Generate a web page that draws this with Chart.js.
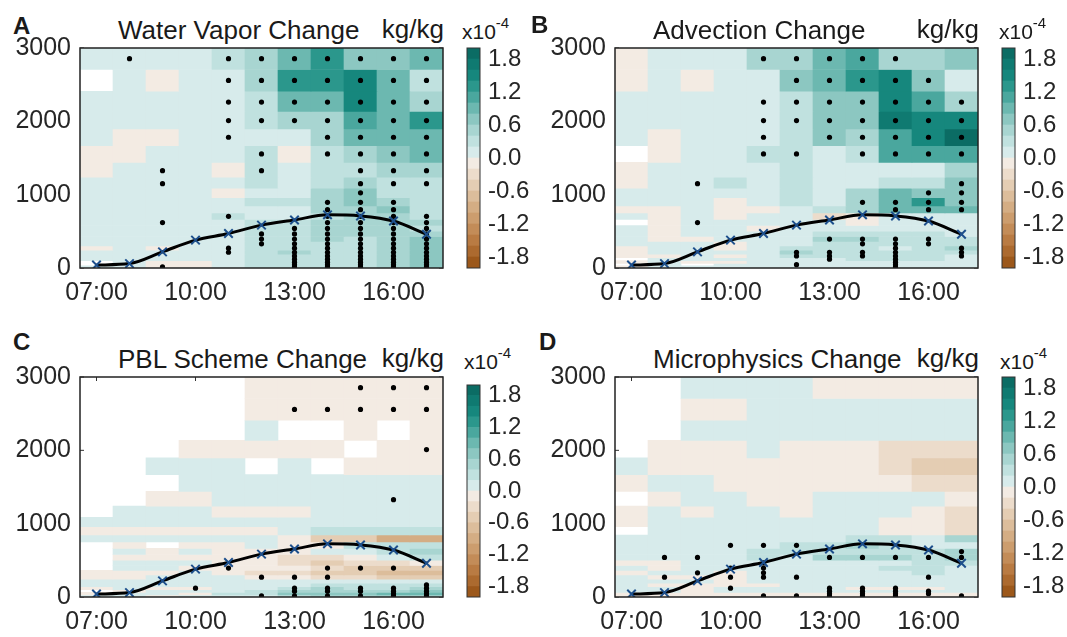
<!DOCTYPE html>
<html>
<head>
<meta charset="utf-8">
<title>Water vapor budget changes</title>
<script src="https://cdn.jsdelivr.net/npm/chart.js@4.4.1/dist/chart.umd.min.js"></script>
<style>
  html, body { margin: 0; padding: 0; background: #fff; overflow: hidden; }
  #page { position: relative; width: 1067px; height: 637px; font-family: "Liberation Sans", Arial, sans-serif; color: #1a1a1a; }
  #page canvas, #page .txt { position: absolute; }
  .txt { line-height: 1; white-space: nowrap; }
  .letter { font-weight: bold; font-size: 24px; }
  .title { font-size: 26px; }
  .scale { font-size: 21px; }
  .scale span { font-size: 15px; position: relative; top: -11px; }
</style>
</head>
<body>
<div id="page"></div>
<script>
// hours on the x axis, model levels (m) from top to bottom
const hours = ["07:00", "08:00", "09:00", "10:00", "11:00", "12:00", "13:00", "14:00", "15:00", "16:00", "17:00"];
const levels = [2855, 2558, 2262, 2011, 1783, 1555, 1327, 1150, 1025, 895, 795, 705, 620, 540, 465, 395, 330, 270, 215, 165, 120, 80, 45, 15];
const heightTicks = [0, 1000, 2000, 3000];
const colorTicks = [-1.8, -1.2, -0.6, 0.0, 0.6, 1.2, 1.8];
const colorLevels = [-2.0, -1.8, -1.6, -1.4, -1.2, -1.0, -0.8, -0.6, -0.4, -0.2, 0.0, 0.2, 0.4, 0.6, 0.8, 1.0, 1.2, 1.4, 1.6, 1.8, 2.0];

// boundary layer height (m)
const pblHeight = [40, 60, 220, 380, 470, 585, 655, 725, 710, 640, 460];

// changes in x10^-4 kg/kg, one row per level (top first), one column per hour; null = no change
const vaporChange = [
  [0.1, 0.1, 0.1, 0.1, 0.3, 0.5, 0.9, 1.3, 0.7, 0.7, 0.9],
  [null, 0.1, -0.1, 0.1, 0.1, 0.5, 1.3, 1.3, 1.5, 0.9, 0.3],
  [0.1, 0.1, 0.1, 0.1, 0.1, 0.3, 0.9, 0.9, 1.5, 0.9, 0.5],
  [0.1, 0.1, 0.1, 0.1, 0.1, 0.3, 0.5, 0.5, 1.1, 0.9, 1.3],
  [0.1, -0.1, -0.1, 0.1, 0.1, 0.1, 0.1, 0.5, 0.9, 0.9, 0.9],
  [-0.1, -0.1, 0.1, 0.1, 0.1, 0.3, -0.1, 0.3, 0.5, 0.7, 0.9],
  [-0.1, 0.1, 0.1, 0.1, -0.1, 0.3, 0.1, 0.3, 0.3, 0.5, 0.5],
  [0.1, 0.1, 0.1, 0.1, 0.1, 0.3, 0.1, 0.3, 0.5, 0.3, 0.3],
  [0.1, 0.1, 0.1, 0.1, -0.1, 0.1, 0.1, 0.5, 0.7, 0.3, 0.3],
  [0.1, 0.1, 0.1, 0.1, 0.1, 0.3, 0.3, 0.5, 0.7, 0.5, 0.3],
  [0.1, 0.1, 0.1, 0.1, 0.1, 0.1, 0.1, 0.5, 0.5, 0.7, 0.3],
  [0.1, 0.1, 0.1, 0.1, 0.3, 0.1, 0.1, 0.3, 0.5, 0.5, 0.3],
  [0.1, 0.1, 0.1, 0.1, 0.1, 0.3, 0.3, 0.5, 0.5, 0.5, 0.5],
  [0.1, 0.1, 0.1, 0.1, 0.1, 0.3, 0.3, 0.5, 0.5, 0.5, 0.3],
  [0.1, 0.1, 0.1, 0.1, 0.1, 0.3, 0.3, 0.5, 0.5, 0.5, 0.5],
  [0.1, 0.1, 0.1, 0.1, 0.1, 0.3, 0.3, 0.5, 0.3, 0.5, 0.7],
  [0.1, 0.1, 0.1, 0.1, 0.1, 0.3, 0.3, 0.3, 0.3, 0.5, 0.7],
  [-0.1, 0.1, -0.1, 0.1, 0.1, 0.3, 0.3, 0.3, 0.3, 0.5, 0.7],
  [0.1, 0.1, 0.1, 0.1, 0.1, 0.3, 0.5, 0.3, 0.3, 0.5, 0.7],
  [0.1, 0.1, 0.1, 0.1, 0.1, 0.3, 0.3, 0.3, 0.3, 0.5, 0.7],
  [0.1, 0.1, 0.1, 0.1, 0.1, 0.3, 0.3, 0.3, 0.3, 0.5, 0.7],
  [null, 0.1, -0.1, -0.1, 0.1, 0.3, 0.3, 0.3, 0.3, 0.5, 0.7],
  [null, 0.1, -0.1, -0.1, 0.1, 0.3, 0.3, 0.3, 0.3, 0.5, 0.7],
  [0.1, 0.1, -0.1, -0.1, 0.1, 0.3, 0.3, 0.3, 0.3, 0.5, 0.7]
];

const advectionChange = [
  [-0.1, 0.1, 0.1, 0.1, 0.5, 0.5, 0.9, 1.1, 0.5, 0.5, 0.7],
  [-0.1, 0.1, -0.1, 0.1, 0.1, 0.7, 0.9, 1.3, 1.5, 0.7, 0.1],
  [0.1, 0.1, 0.1, 0.1, 0.1, 0.3, 0.7, 0.7, 1.5, 1.1, 0.5],
  [0.1, 0.1, 0.1, 0.1, 0.1, 0.3, 0.7, 0.7, 1.7, 1.5, 1.5],
  [0.1, -0.1, 0.1, 0.1, 0.1, 0.3, 0.7, 0.5, 1.1, 1.5, 1.9],
  [null, -0.1, 0.1, 0.1, 0.3, 0.3, 0.1, 0.3, 1.1, 1.1, 1.1],
  [-0.1, 0.1, 0.1, 0.1, 0.1, 0.3, 0.1, 0.1, 0.1, 0.1, 0.5],
  [-0.1, 0.1, 0.1, 0.3, 0.1, 0.3, 0.1, 0.1, 0.3, 0.3, 0.7],
  [0.1, 0.1, 0.1, 0.1, 0.1, 0.3, 0.1, 0.5, 0.9, 0.7, 0.7],
  [0.1, 0.1, 0.1, -0.1, 0.1, 0.3, 0.1, 0.5, 0.9, 1.3, 0.7],
  [-0.1, -0.1, 0.1, -0.1, -0.1, 0.1, 0.3, 0.5, 0.9, 0.9, 0.9],
  [0.1, -0.1, 0.1, -0.1, 0.1, 0.1, -0.3, -0.1, 0.1, 0.1, 0.1],
  [null, -0.1, 0.1, 0.1, 0.1, 0.1, 0.1, -0.1, 0.1, 0.1, 0.1],
  [0.1, -0.1, 0.1, 0.1, -0.1, 0.1, 0.1, 0.1, 0.1, 0.1, 0.1],
  [0.1, -0.1, 0.1, 0.1, 0.1, 0.1, 0.3, 0.3, 0.3, 0.3, 0.1],
  [0.1, -0.1, -0.1, 0.1, 0.1, 0.1, 0.5, 0.5, 0.3, 0.3, 0.3],
  [0.1, 0.1, 0.1, -0.1, 0.1, 0.1, 0.3, 0.3, 0.3, 0.3, 0.3],
  [-0.1, 0.1, 0.1, -0.1, 0.1, 0.3, 0.3, 0.3, 0.1, 0.3, 0.5],
  [-0.1, 0.1, 0.1, 0.1, 0.1, 0.5, 0.3, 0.3, 0.3, 0.3, 0.3],
  [-0.1, -0.1, 0.1, -0.1, 0.1, 0.3, 0.3, 0.3, 0.3, 0.3, 0.1],
  [null, 0.1, 0.1, 0.1, 0.1, 0.1, 0.1, 0.3, 0.3, 0.3, 0.1],
  [-0.1, 0.1, -0.1, -0.1, 0.1, 0.1, 0.1, 0.1, 0.1, 0.1, 0.1],
  [null, 0.1, null, 0.1, 0.1, 0.1, 0.1, 0.1, 0.1, 0.1, 0.1],
  [-0.1, 0.1, 0.1, 0.1, 0.1, 0.1, 0.1, 0.1, 0.1, 0.1, 0.1]
];

const pblChange = [
  [null, null, null, null, null, -0.1, -0.1, -0.1, -0.1, -0.1, -0.1],
  [null, null, null, null, null, -0.1, -0.1, -0.1, -0.1, -0.1, -0.1],
  [null, null, null, null, null, 0.1, null, null, -0.1, null, -0.1],
  [null, null, null, -0.1, -0.1, -0.1, -0.1, -0.1, null, -0.1, -0.1],
  [null, null, 0.1, 0.1, 0.1, null, 0.1, null, -0.1, -0.1, -0.1],
  [null, null, null, 0.1, 0.1, 0.1, 0.1, 0.1, 0.1, 0.1, 0.1],
  [null, null, -0.1, -0.1, 0.1, 0.1, 0.1, 0.1, 0.1, 0.1, 0.1],
  [null, 0.1, 0.1, 0.1, -0.1, -0.1, -0.1, 0.1, 0.1, 0.1, 0.1],
  [0.1, 0.1, 0.1, 0.1, 0.1, 0.1, 0.1, 0.1, 0.1, 0.1, 0.1],
  [-0.1, -0.1, -0.1, -0.1, -0.1, -0.1, 0.1, 0.3, 0.3, 0.3, 0.3],
  [0.1, 0.1, 0.1, 0.1, 0.1, 0.1, -0.1, -0.5, -0.5, -0.9, -0.9],
  [null, -0.1, null, -0.1, -0.1, 0.1, -0.1, -0.1, 0.3, 0.3, 0.3],
  [null, 0.1, -0.1, 0.1, -0.1, -0.1, -0.1, 0.1, 0.1, 0.3, 0.5],
  [null, -0.1, -0.1, -0.1, -0.1, -0.1, -0.3, -0.3, -0.1, 0.1, 0.3],
  [null, 0.1, 0.1, 0.1, -0.1, -0.1, -0.3, -0.5, -0.3, -0.3, -0.1],
  [null, 0.1, 0.1, -0.1, -0.1, -0.1, -0.1, -0.3, -0.5, -0.5, -0.5],
  [-0.1, -0.1, -0.1, 0.1, -0.1, -0.3, -0.3, -0.5, -0.5, -0.7, -0.7],
  [-0.1, -0.1, 0.1, 0.1, 0.1, -0.1, -0.1, -0.3, -0.3, -0.5, -0.5],
  [0.1, 0.1, 0.1, 0.1, 0.1, 0.1, 0.1, 0.1, 0.1, 0.1, 0.1],
  [0.1, 0.1, 0.1, 0.1, 0.1, 0.1, 0.1, 0.3, 0.3, 0.3, 0.3],
  [-0.1, 0.1, -0.1, -0.1, 0.1, 0.1, 0.3, 0.5, 0.3, 0.3, 0.5],
  [null, -0.1, 0.1, 0.1, 0.1, 0.3, 0.5, 0.5, 0.5, 0.5, 0.7],
  [-0.1, 0.1, 0.1, -0.1, 0.3, 0.3, 0.7, 0.7, 0.7, 0.9, 0.9],
  [0.1, 0.1, -0.1, 0.1, 0.1, 0.1, 0.3, 0.5, 0.5, 0.5, 0.5]
];

const microChange = [
  [null, null, 0.1, 0.1, 0.1, 0.1, -0.1, -0.1, -0.1, -0.1, -0.1],
  [null, null, -0.1, -0.1, 0.1, 0.1, 0.1, 0.1, 0.1, 0.1, 0.1],
  [null, null, 0.1, 0.1, 0.1, 0.1, 0.1, 0.1, 0.1, 0.1, 0.1],
  [null, -0.1, -0.1, -0.1, 0.1, -0.1, -0.1, -0.1, -0.3, -0.3, -0.3],
  [0.1, -0.1, -0.1, -0.1, -0.1, -0.1, -0.1, -0.1, -0.3, -0.5, -0.5],
  [-0.1, 0.1, 0.1, -0.1, -0.1, -0.1, -0.1, -0.1, -0.1, -0.3, -0.3],
  [null, -0.1, 0.1, 0.1, -0.1, -0.1, 0.1, 0.1, 0.1, 0.1, -0.1],
  [-0.1, 0.1, -0.1, 0.1, 0.1, -0.1, 0.1, 0.1, 0.1, -0.1, -0.3],
  [-0.1, 0.1, 0.1, 0.1, 0.1, 0.1, 0.1, 0.1, -0.1, -0.1, -0.3],
  [null, 0.1, 0.1, 0.1, 0.1, 0.1, 0.1, 0.1, -0.1, -0.1, -0.3],
  [0.1, 0.1, 0.1, 0.1, 0.1, 0.1, 0.1, 0.3, 0.3, 0.1, 0.5],
  [0.1, 0.1, 0.1, 0.1, 0.1, 0.3, 0.3, 0.5, 0.3, 0.1, 0.1],
  [0.1, 0.1, 0.1, 0.1, 0.3, 0.3, 0.3, 0.3, 0.3, 0.3, 0.5],
  [0.1, 0.1, 0.1, 0.1, 0.3, 0.1, 0.5, 0.5, 0.5, 0.3, 0.5],
  [-0.1, -0.1, 0.1, 0.1, 0.1, 0.1, 0.1, 0.1, 0.1, 0.3, 0.3],
  [0.1, -0.1, 0.1, 0.1, 0.1, 0.1, 0.1, 0.1, 0.3, 0.3, 0.1],
  [-0.1, 0.1, 0.1, -0.1, 0.1, 0.1, 0.1, 0.1, 0.1, 0.3, 0.1],
  [0.1, -0.1, -0.1, -0.1, 0.1, 0.1, 0.1, 0.1, 0.1, 0.1, 0.1],
  [0.1, 0.1, 0.1, -0.1, 0.1, 0.1, 0.1, 0.1, 0.1, 0.1, 0.1],
  [0.1, -0.1, -0.1, -0.1, -0.1, 0.1, 0.1, 0.1, 0.1, 0.1, 0.1],
  [0.1, 0.1, -0.1, 0.1, 0.1, 0.1, 0.1, -0.1, -0.1, -0.1, 0.1],
  [0.1, 0.1, -0.1, 0.1, 0.1, 0.1, 0.1, 0.1, 0.1, 0.1, 0.1],
  [-0.1, -0.1, -0.1, -0.1, -0.1, -0.1, -0.1, -0.1, -0.1, -0.1, -0.1],
  [-0.1, -0.1, -0.1, -0.1, -0.1, -0.1, -0.1, -0.1, -0.1, -0.1, -0.1]
];

// significant cells: levels (m) per hour
const vaporDots = {
  "08:00": [2855],
  "09:00": [1327, 1150, 620, 15],
  "11:00": [2855, 2558, 2262, 2011, 1783, 705, 270, 215],
  "12:00": [2855, 2558, 2262, 2011, 1555, 1327, 465, 395, 330],
  "13:00": [2855, 2558, 2262, 2011, 540, 465, 395, 330, 270, 215, 165, 120, 80, 45, 15],
  "14:00": [2855, 2558, 2262, 2011, 1783, 1555, 895, 795, 705, 620, 540, 465, 395, 330, 270, 215, 165, 120, 80, 45, 15],
  "15:00": [2855, 2558, 2262, 2011, 1783, 1555, 1327, 1150, 1025, 895, 795, 705, 620, 540, 465, 395, 330, 270, 215, 165, 120, 80, 45, 15],
  "16:00": [2855, 2558, 2262, 2011, 1783, 1555, 1327, 1150, 895, 795, 705, 620, 540, 465, 395, 330, 270, 215, 165, 120, 80, 45, 15],
  "17:00": [2855, 2558, 2262, 2011, 1783, 1555, 1327, 1150, 705, 620, 540, 465, 395, 330, 270, 215, 165, 120, 80, 45, 15]
};
const advectionDots = {
  "09:00": [1150, 620],
  "11:00": [2855, 2262, 2011, 1783, 1555],
  "12:00": [2855, 2558, 2262, 2011, 1555, 215, 165, 45],
  "13:00": [2855, 2558, 2262, 2011, 1783, 395, 215, 165, 120],
  "14:00": [2855, 2558, 2262, 2011, 1783, 1555, 895, 395, 330, 215, 165],
  "15:00": [2855, 2558, 2262, 2011, 1783, 1555, 895, 795, 395, 330, 270, 215, 165, 120, 80, 45, 15],
  "16:00": [2558, 2262, 2011, 1783, 1555, 1025, 895, 795, 395, 330],
  "17:00": [2262, 2011, 1783, 1555, 1150, 1025, 895, 795, 270, 215, 165]
};
const pblDots = {
  "10:00": [120],
  "11:00": [395],
  "12:00": [270, 15],
  "13:00": [2558, 270, 120, 80, 15],
  "14:00": [2558, 395, 270, 120, 80, 15],
  "15:00": [2855, 2558, 395, 120, 80, 15],
  "16:00": [2855, 2558, 1327, 395, 120, 80, 45, 15],
  "17:00": [2855, 2558, 2011, 165, 120, 80, 45, 15]
};
const microDots = {
  "08:00": [540, 270],
  "09:00": [540, 330],
  "10:00": [705, 395, 270, 120],
  "11:00": [705, 465, 395, 330, 270, 15],
  "12:00": [705, 270, 15],
  "13:00": [540, 120, 80, 45, 15],
  "14:00": [540, 120, 80, 45, 15],
  "15:00": [540, 120, 80, 45, 15],
  "16:00": [540, 270, 80, 45],
  "17:00": [620, 540, 15]
};

// brown–teal diverging palette, one colour per 0.2 step from -2 to 2
const palette = [
  "#9c581b", "#ac6a2f", "#b97b43", "#c38c58", "#cc9d6e", "#d4ad84", "#dcbd9b", "#e4cdb3", "#ecdccb", "#f3ebe3",
  "#d7ebeb", "#c0e1df", "#a8d5d1", "#8cc7c1", "#6cb8b0", "#4aa79e", "#2b978c", "#16877d", "#0f7a71", "#0b6c64"
];

// page placement of each panel: plot box and colour bar as [left, top, right, bottom]
const panels = [
  { letter: "A", title: "Water Vapor Change", values: vaporChange, dots: vaporDots,
    box: [80, 48, 443, 268], bar: [467, 48, 480, 268], letterAt: [13, 14], scaleAt: [462, 21] },
  { letter: "B", title: "Advection Change", values: advectionChange, dots: advectionDots,
    box: [615, 48, 978, 268], bar: [1002, 48, 1015, 268], letterAt: [531, 13], scaleAt: [999, 21] },
  { letter: "C", title: "PBL Scheme Change", values: pblChange, dots: pblDots,
    box: [80, 377, 443, 597], bar: [467, 385, 480, 597], letterAt: [13, 330], scaleAt: [464, 351] },
  { letter: "D", title: "Microphysics Change", values: microChange, dots: microDots,
    box: [615, 377, 978, 597], bar: [1002, 377, 1015, 597], letterAt: [539, 330], scaleAt: [1000, 351] }
];

Chart.defaults.font.family = '"Liberation Sans", Arial, sans-serif';
Chart.defaults.color = "#262626";

const page = document.getElementById("page");

function colorFor(v) {
  if (v === null) return "rgba(0,0,0,0)";
  for (let i = 0; i < palette.length; i++) {
    if (v < colorLevels[i + 1]) return palette[i];
  }
  return palette[palette.length - 1];
}

// each level's cell spans halfway to its neighbours
function cellBounds() {
  return levels.map((h, j) => {
    const hi = j === 0 ? 3000 : (h + levels[j - 1]) / 2;
    const lo = j === levels.length - 1 ? 0 : (h + levels[j + 1]) / 2;
    return [lo, hi];
  });
}

function addText(cls, text, left, top, right) {
  const el = document.createElement("div");
  el.className = "txt " + cls;
  el.innerHTML = text;
  el.style.top = top + "px";
  if (right !== undefined) el.style.right = right + "px";
  else el.style.left = left + "px";
  page.appendChild(el);
}

function addCanvas(left, top, w, h) {
  const c = document.createElement("canvas");
  c.width = w;
  c.height = h;
  c.style.left = left + "px";
  c.style.top = top + "px";
  c.style.width = w + "px";
  c.style.height = h + "px";
  page.appendChild(c);
  return c;
}

// box around the plot area, with short inward ticks under the cells
const boxFrame = {
  id: "boxFrame",
  beforeDatasetsDraw(chart, args, opts) {
    if (!opts.ticks) return;
    const { ctx, chartArea: a, scales } = chart;
    ctx.save();
    ctx.strokeStyle = "#333";
    ctx.lineWidth = 1;
    ctx.beginPath();
    [0, 3, 6, 9].forEach((i) => {
      const x = scales.x.getPixelForValue(i);
      ctx.moveTo(x, a.top); ctx.lineTo(x, a.top + 4);
      ctx.moveTo(x, a.bottom); ctx.lineTo(x, a.bottom - 4);
    });
    heightTicks.forEach((v) => {
      const y = scales.y.getPixelForValue(v);
      ctx.moveTo(a.left, y); ctx.lineTo(a.left + 4, y);
      ctx.moveTo(a.right, y); ctx.lineTo(a.right - 4, y);
    });
    ctx.stroke();
    ctx.restore();
  },
  afterDatasetsDraw(chart, args, opts) {
    const { ctx, chartArea: a } = chart;
    ctx.save();
    ctx.strokeStyle = opts.color || "#222";
    ctx.lineWidth = opts.width || 1.5;
    ctx.strokeRect(a.left, a.top, a.right - a.left, a.bottom - a.top);
    ctx.restore();
  }
};

function drawPanel(p) {
  const [L, T, R, B] = p.box;

  addText("letter", p.letter, p.letterAt[0], p.letterAt[1]);
  addText("title", p.title, L + 38, T - 31);
  addText("title", "kg/kg", 0, T - 32, 1067 - (R + 1));
  addText("scale", "x10<span>-4</span>", p.scaleAt[0], p.scaleAt[1]);

  // heat map: one floating bar dataset per level
  const bounds = cellBounds();
  const cellSets = levels.map((h, j) => ({
    type: "bar",
    data: p.values[j].map((v) => (v === null ? null : bounds[j])),
    backgroundColor: p.values[j].map(colorFor),
    borderWidth: 0,
    grouped: false,
    barPercentage: 1,
    categoryPercentage: 1,
    order: 3
  }));

  const dotPoints = [];
  Object.keys(p.dots).forEach((hr) => {
    p.dots[hr].forEach((lev) => dotPoints.push({ x: hr, y: lev }));
  });

  const padL = 75, padT = 25, padR = 8, padB = 45;
  const canvas = addCanvas(L - padL, T - padT, R - L + padL + padR, B - T + padT + padB);

  new Chart(canvas, {
    type: "bar",
    data: {
      labels: hours,
      datasets: [
        ...cellSets,
        {
          type: "line",
          data: dotPoints,
          showLine: false,
          pointRadius: 2.6,
          pointBackgroundColor: "#000",
          pointBorderWidth: 0,
          order: 2
        },
        {
          type: "line",
          data: pblHeight,
          borderColor: "#000",
          borderWidth: 3,
          cubicInterpolationMode: "monotone",
          pointStyle: "crossRot",
          pointRadius: 6,
          pointBorderColor: "#1d4f8c",
          pointBorderWidth: 2,
          order: 1
        }
      ]
    },
    options: {
      responsive: false,
      animation: false,
      devicePixelRatio: 1,
      events: [],
      layout: { padding: { left: 0, top: padT, right: padR, bottom: 5 } },
      plugins: {
        legend: { display: false },
        tooltip: { enabled: false },
        boxFrame: { color: "#222", width: 1.5, ticks: true }
      },
      scales: {
        x: {
          type: "category",
          offset: true,
          grid: { display: false, drawTicks: false, tickLength: 0 },
          border: { display: false },
          ticks: {
            autoSkip: false,
            maxRotation: 0,
            padding: 10,
            font: { size: 25 },
            callback: (v, i) => (i % 3 === 0 ? hours[i] : "")
          },
          afterFit: (scale) => { scale.height = 40; }
        },
        y: {
          type: "linear",
          min: 0,
          max: 3000,
          grid: { display: false, drawTicks: false, tickLength: 0 },
          border: { display: false },
          ticks: { padding: 9, font: { size: 25 }, callback: (v) => String(v) },
          afterBuildTicks: (scale) => { scale.ticks = heightTicks.map((v) => ({ value: v })); },
          afterFit: (scale) => { scale.width = padL; }
        }
      }
    },
    plugins: [boxFrame]
  });

  // colour bar
  const [bl, bt, br, bb] = p.bar;
  const cw = 70;
  const barCanvas = addCanvas(bl - 5, bt - 25, cw, bb - bt + 50);
  new Chart(barCanvas, {
    type: "bar",
    data: {
      labels: [""],
      datasets: palette.map((c, i) => ({
        data: [[colorLevels[i], colorLevels[i + 1]]],
        backgroundColor: c,
        borderWidth: 0,
        grouped: false,
        barPercentage: 1,
        categoryPercentage: 1
      }))
    },
    options: {
      responsive: false,
      animation: false,
      devicePixelRatio: 1,
      events: [],
      layout: { padding: { left: 5, top: 25, right: 0, bottom: 25 } },
      plugins: {
        legend: { display: false },
        tooltip: { enabled: false },
        boxFrame: { color: "#333", width: 1, ticks: false }
      },
      scales: {
        x: { display: false },
        y: {
          position: "right",
          min: -2,
          max: 2,
          grid: { display: false, drawTicks: false, tickLength: 0 },
          border: { display: false },
          ticks: { padding: 8, font: { size: 24 }, callback: (v) => Number(v).toFixed(1) },
          afterBuildTicks: (scale) => { scale.ticks = colorTicks.map((v) => ({ value: v })); },
          afterFit: (scale) => { scale.width = cw - 5 - (br - bl); }
        }
      }
    },
    plugins: [boxFrame]
  });
}

panels.forEach(drawPanel);
</script>
</body>
</html>
